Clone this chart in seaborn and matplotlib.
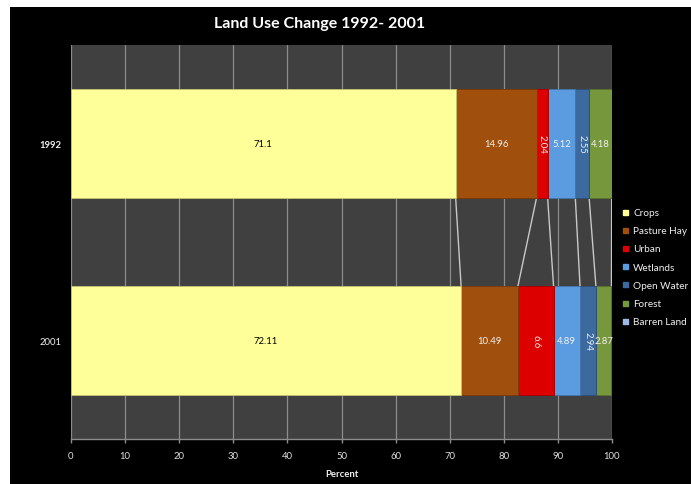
import matplotlib
matplotlib.use("Agg")
import matplotlib.pyplot as plt
from matplotlib.lines import Line2D
from matplotlib.patches import Rectangle
import numpy as np
import pandas as pd
import seaborn as sns

# Land use shares (percent of area) by year
years = ["1992", "2001"]
classes = ["Crops", "Pasture Hay", "Urban", "Wetlands", "Open Water", "Forest", "Barren Land"]
share_1992 = [71.10, 14.96, 2.04, 5.12, 2.55, 4.18, 0.05]
share_2001 = [72.11, 10.49, 6.60, 4.89, 2.94, 2.87, 0.10]
class_colors = ["#FFFF99", "#A0500C", "#DD0000", "#5B9BE0", "#3C6A9E", "#77973C", "#9DB9E4"]
x_ticks = [0, 10, 20, 30, 40, 50, 60, 70, 80, 90, 100]
unlabelled = ["Barren Land"]
vertical_labels = ["Urban", "Open Water"]

sns.set_theme(style="dark")
plt.rcParams["font.family"] = ["Lato", "DejaVu Sans"]

rows = []
for yr, shares in zip(years, [share_1992, share_2001]):
    cum = np.cumsum(shares)
    for cls, v, c in zip(classes, shares, cum):
        rows.append({"year": yr, "cls": cls, "value": v, "cum": c})
df = pd.DataFrame(rows)

W, H = 691, 485
fig = plt.figure(figsize=(W / 100, H / 100), dpi=100, facecolor="white")
fig.patches.append(Rectangle((10 / W, 0), 1, 1 - 8 / H, transform=fig.transFigure,
                             facecolor="black", edgecolor="none", zorder=-10))

ax = fig.add_axes([71 / W, (H - 440) / H, (612 - 71) / W, (440 - 46) / H])
ax.set_facecolor("#404040")

bar_w = 0.55
# stacked bars: draw running totals from the outermost class inwards
for cls, col in reversed(list(zip(classes, class_colors))):
    sub = df[df["cls"] == cls]
    edge = tuple(np.array(matplotlib.colors.to_rgb(col)) * 0.75)
    sns.barplot(data=sub, x="cum", y="year", order=years, orient="h", color=col,
                saturation=1, width=bar_w, errorbar=None, edgecolor=edge,
                linewidth=0.7, ax=ax, zorder=3)

# series lines joining segment boundaries between the two bars
c92 = df[df["year"] == "1992"]["cum"].to_numpy()
c01 = df[df["year"] == "2001"]["cum"].to_numpy()
for a, b in zip(c92, c01):
    ax.plot([a, b], [0 + bar_w / 2, 1 - bar_w / 2], color="#c8c8c8", lw=1.0, zorder=2)

# value labels
for _, r in df.iterrows():
    if r["cls"] in unlabelled:
        continue
    yi = years.index(r["year"])
    xc = r["cum"] - r["value"] / 2
    txt = f"{r['value']:.2f}".rstrip("0").rstrip(".")
    col = "black" if r["cls"] == "Crops" else "#f2f2f2"
    rot = -90 if r["cls"] in vertical_labels else 0
    ax.text(xc, yi, txt, ha="center", va="center", fontsize=6.8, color=col,
            rotation=rot, zorder=5)

ax.set_xlim(0, 100)
ax.set_ylim(1.5, -0.5)
ax.set_xticks(x_ticks)
ax.set_xticklabels([str(t) for t in x_ticks])
ax.set_axisbelow(True)
ax.grid(axis="x", color="#8c8c8c", lw=0.9, zorder=0)
ax.grid(axis="y", visible=False)
for side in ["top", "right", "left"]:
    ax.spines[side].set_visible(False)
ax.spines["bottom"].set_color("#8c8c8c")
ax.spines["bottom"].set_linewidth(1.0)
ax.tick_params(axis="x", colors="#8c8c8c", length=3, width=1.0, direction="out",
               labelcolor="#e0e0e0", labelsize=6.8, pad=6, bottom=True)
ax.tick_params(axis="y", length=0, labelcolor="#f0f0f0", labelsize=6.8, pad=7)
ax.get_yticklabels()[0].set_fontweight("bold")
ax.set_ylabel("")
ax.set_xlabel("Percent", color="#f0f0f0", fontsize=6.8, fontweight="bold", labelpad=6)

fig.text(320 / W, 1 - 24 / H, "Land Use Change 1992- 2001", ha="center", va="center",
         color="white", fontsize=11.5, fontweight="bold")

handles = [Line2D([0], [0], marker="s", linestyle="none", markersize=3.6,
                  markerfacecolor=c, markeredgecolor=c) for c in class_colors]
leg = fig.legend(handles, classes, loc="upper left",
                 bbox_to_anchor=(616 / W, 1 - 204 / H), frameon=False,
                 fontsize=7.2, labelcolor="#f0f0f0", handlelength=0.7,
                 handletextpad=0.5, labelspacing=0.92, borderpad=0)

fig.savefig("out.png", dpi=100, facecolor=fig.get_facecolor())
